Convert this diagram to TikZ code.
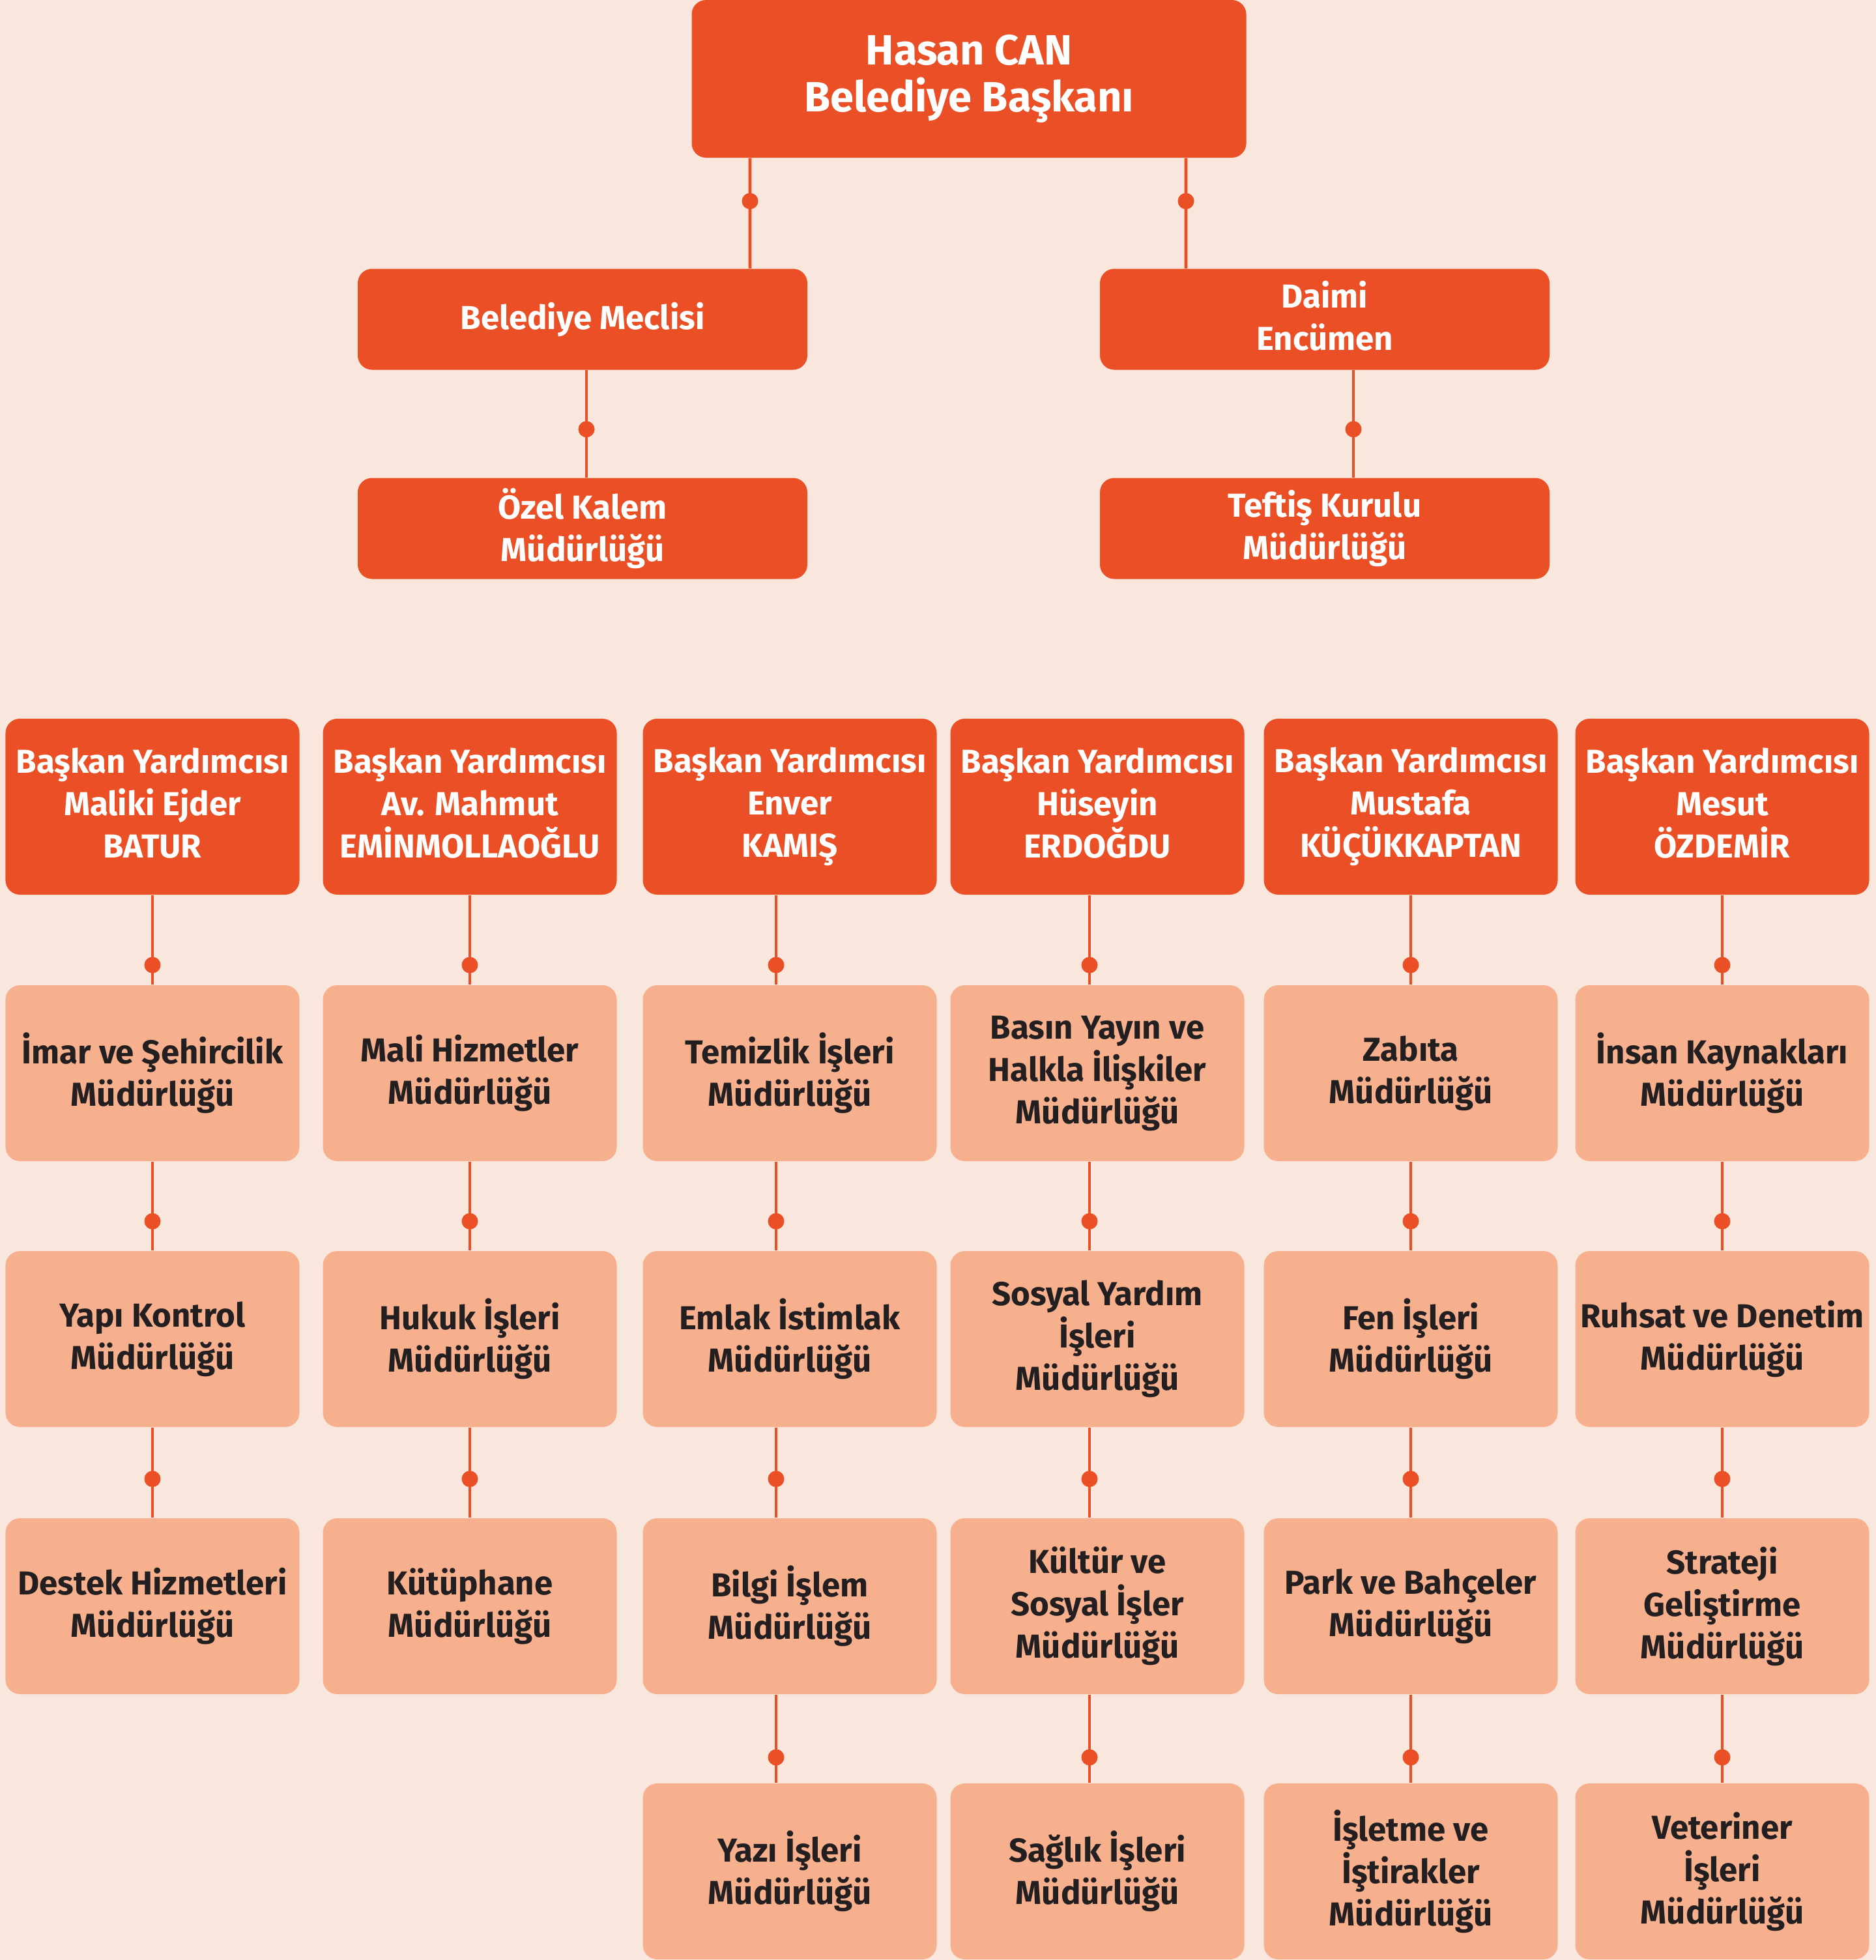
\documentclass[tikz,border=0pt]{standalone}
\usepackage{fontspec}
\setmainfont{Fira Sans}
\definecolor{bgpink}{HTML}{F9E7DE}
\definecolor{rust}{HTML}{EA4F25}
\definecolor{salmon}{HTML}{F6B08E}
\definecolor{ink}{HTML}{231F20}

\begin{document}
\begin{tikzpicture}[
    box/.style={rounded corners=0.22cm, inner sep=0pt, align=center, execute at end node={\vphantom{ğ}}},
    chief/.style={box, fill=rust, text=white, minimum width=8.51cm, minimum height=2.42cm,
      font=\fontsize{18.5}{20.5}\selectfont\bfseries},
    board/.style={box, fill=rust, text=white, minimum width=6.90cm, minimum height=1.55cm,
      font=\fontsize{14.5}{18.5}\selectfont\bfseries},
    deputy/.style={box, fill=rust, text=white, minimum width=4.51cm, minimum height=2.70cm,
      font=\fontsize{14.5}{18.5}\selectfont\bfseries},
    unit/.style={box, fill=salmon, text=ink, minimum width=4.51cm, minimum height=2.70cm,
      font=\fontsize{14.5}{18.5}\selectfont\bfseries},
    link/.style={draw=rust, line width=1.3pt},
    joint/.style={circle, fill=rust, inner sep=0pt, minimum size=0.25cm}
  ]
  \fill[bgpink] (0,0) rectangle (28.79,-30.08);

  % top
  \node[chief] (baskan) at (14.87,-1.21) {Hasan CAN\\Belediye Başkanı};
  \node[board] (meclis) at (8.94,-4.90) {Belediye Meclisi};
  \node[board] (encumen) at (20.33,-4.90) {Daimi\\Encümen};
  \node[board] (kalem) at (8.94,-8.11) {Özel Kalem\\Müdürlüğü};
  \node[board] (teftis) at (20.33,-8.11) {Teftiş Kurulu\\Müdürlüğü};

  % deputies
  \node[deputy] (by1) at (2.34,-12.38) {Başkan Yardımcısı\\Maliki Ejder\\BATUR};
  \node[deputy] (by2) at (7.21,-12.38) {Başkan Yardımcısı\\Av. Mahmut\\EMİNMOLLAOĞLU};
  \node[deputy] (by3) at (12.12,-12.38) {Başkan Yardımcısı\\Enver\\KAMIŞ};
  \node[deputy] (by4) at (16.84,-12.38) {Başkan Yardımcısı\\Hüseyin\\ERDOĞDU};
  \node[deputy] (by5) at (21.65,-12.38) {Başkan Yardımcısı\\Mustafa\\KÜÇÜKKAPTAN};
  \node[deputy] (by6) at (26.43,-12.38) {Başkan Yardımcısı\\Mesut\\ÖZDEMİR};

  % units, first row
  \node[unit] (imar) at (2.34,-16.47) {İmar ve Şehircilik\\Müdürlüğü};
  \node[unit] (mali) at (7.21,-16.47) {Mali Hizmetler\\Müdürlüğü};
  \node[unit] (temizlik) at (12.12,-16.47) {Temizlik İşleri\\Müdürlüğü};
  \node[unit] (basin) at (16.84,-16.47) {Basın Yayın ve\\Halkla İlişkiler\\Müdürlüğü};
  \node[unit] (zabita) at (21.65,-16.47) {Zabıta\\Müdürlüğü};
  \node[unit] (insan) at (26.43,-16.47) {İnsan Kaynakları\\Müdürlüğü};

  % second row
  \node[unit] (yapi) at (2.34,-20.55) {Yapı Kontrol\\Müdürlüğü};
  \node[unit] (hukuk) at (7.21,-20.55) {Hukuk İşleri\\Müdürlüğü};
  \node[unit] (emlak) at (12.12,-20.55) {Emlak İstimlak\\Müdürlüğü};
  \node[unit] (sosyal) at (16.84,-20.55) {Sosyal Yardım\\İşleri\\Müdürlüğü};
  \node[unit] (fen) at (21.65,-20.55) {Fen İşleri\\Müdürlüğü};
  \node[unit] (ruhsat) at (26.43,-20.55) {Ruhsat ve Denetim\\Müdürlüğü};

  % third row
  \node[unit] (destek) at (2.34,-24.65) {Destek Hizmetleri\\Müdürlüğü};
  \node[unit] (kutup) at (7.21,-24.65) {Kütüphane\\Müdürlüğü};
  \node[unit] (bilgi) at (12.12,-24.65) {Bilgi İşlem\\Müdürlüğü};
  \node[unit] (kultur) at (16.84,-24.65) {Kültür ve\\Sosyal İşler\\Müdürlüğü};
  \node[unit] (park) at (21.65,-24.65) {Park ve Bahçeler\\Müdürlüğü};
  \node[unit] (strateji) at (26.43,-24.65) {Strateji\\Geliştirme\\Müdürlüğü};

  % fourth row
  \node[unit] (yazi) at (12.12,-28.72) {Yazı İşleri\\Müdürlüğü};
  \node[unit] (saglik) at (16.84,-28.72) {Sağlık İşleri\\Müdürlüğü};
  \node[unit] (isletme) at (21.65,-28.72) {İşletme ve\\İştirakler\\Müdürlüğü};
  \node[unit] (veteriner) at (26.43,-28.72) {Veteriner\\İşleri\\Müdürlüğü};

  \begin{scope}[link]
    \draw ([xshift=-3.36cm]baskan.south) -- node[joint,pos=.39]{} ([xshift=2.57cm]meclis.north);
    \draw ([xshift=3.33cm]baskan.south) -- node[joint,pos=.39]{} ([xshift=-2.13cm]encumen.north);
    \draw ([xshift=0.06cm]meclis.south) -- node[joint,pos=.55]{} ([xshift=0.06cm]kalem.north);
    \draw ([xshift=0.44cm]encumen.south) -- node[joint,pos=.55]{} ([xshift=0.44cm]teftis.north);

    \draw (by1) -- node[joint,pos=.78]{} (imar);
    \draw (by2) -- node[joint,pos=.78]{} (mali);
    \draw ([xshift=-0.21cm]by3.south) -- node[joint,pos=.78]{} ([xshift=-0.21cm]temizlik.north);
    \draw ([xshift=-0.12cm]by4.south) -- node[joint,pos=.78]{} ([xshift=-0.12cm]basin.north);
    \draw (by5) -- node[joint,pos=.78]{} (zabita);
    \draw (by6) -- node[joint,pos=.78]{} (insan);

    \draw (imar) -- node[joint,pos=.67]{} (yapi);
    \draw (mali) -- node[joint,pos=.67]{} (hukuk);
    \draw ([xshift=-0.21cm]temizlik.south) -- node[joint,pos=.67]{} ([xshift=-0.21cm]emlak.north);
    \draw ([xshift=-0.12cm]basin.south) -- node[joint,pos=.67]{} ([xshift=-0.12cm]sosyal.north);
    \draw (zabita) -- node[joint,pos=.67]{} (fen);
    \draw (insan) -- node[joint,pos=.67]{} (ruhsat);

    \draw (yapi) -- node[joint,pos=.57]{} (destek);
    \draw (hukuk) -- node[joint,pos=.57]{} (kutup);
    \draw ([xshift=-0.21cm]emlak.south) -- node[joint,pos=.57]{} ([xshift=-0.21cm]bilgi.north);
    \draw ([xshift=-0.12cm]sosyal.south) -- node[joint,pos=.57]{} ([xshift=-0.12cm]kultur.north);
    \draw (fen) -- node[joint,pos=.57]{} (park);
    \draw (ruhsat) -- node[joint,pos=.57]{} (strateji);

    \draw ([xshift=-0.21cm]bilgi.south) -- node[joint,pos=.71]{} ([xshift=-0.21cm]yazi.north);
    \draw ([xshift=-0.12cm]kultur.south) -- node[joint,pos=.71]{} ([xshift=-0.12cm]saglik.north);
    \draw (park) -- node[joint,pos=.71]{} (isletme);
    \draw (strateji) -- node[joint,pos=.71]{} (veteriner);
  \end{scope}
\end{tikzpicture}
\end{document}
